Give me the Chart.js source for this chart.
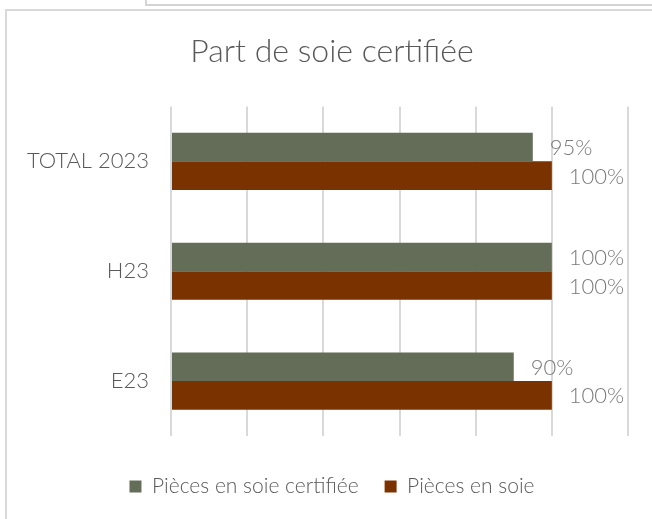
<!DOCTYPE html>
<html>
<head>
<meta charset="utf-8">
<script src="https://cdn.jsdelivr.net/npm/chart.js@4"></script>
<style>
  html, body { margin: 0; padding: 0; background: #fff; }
  body { width: 652px; height: 519px; position: relative; overflow: hidden; }
  .topbox { position: absolute; left: 145px; top: -10px; width: 520px; height: 12px; border: 2px solid #d4d4d4; }
  .frame { position: absolute; left: 5px; top: 9px; width: 660px; height: 520px; border: 2px solid #d9d9d9; }
  #wrap { position: absolute; left: 0; top: 0; width: 652px; height: 519px; }
</style>
</head>
<body>
<div class="topbox"></div>
<div class="frame"></div>
<div id="wrap"><canvas id="chart"></canvas></div>
<script>
const categories = ["TOTAL 2023", "H23", "E23"];
const certifiedValues = [95, 100, 90];
const silkValues = [100, 100, 100];
const seriesNames = ["Pièces en soie certifiée", "Pièces en soie"];

const FONT = "'Lato Light', 'Lato', 'Open Sans', sans-serif";
const TEXT = '#595959';

// value labels at the bar ends
const barLabels = {
    id: 'barLabels',
    afterDatasetsDraw(chart) {
        const ctx = chart.ctx;
        ctx.save();
        ctx.font = '300 22px ' + FONT;
        ctx.fillStyle = '#7a7a7a';
        ctx.textAlign = 'left';
        ctx.textBaseline = 'middle';
        chart.data.datasets.forEach((ds, i) => {
            chart.getDatasetMeta(i).data.forEach((bar, j) => {
                ctx.fillText(ds.data[j] + '%', bar.x + 17, bar.y + 1);
            });
        });
        ctx.restore();
    }
};

// title and legend are centred on the whole frame, a bit right of the canvas middle
const shiftBlocks = {
    id: 'shiftBlocks',
    afterLayout(chart) {
        [chart.titleBlock, chart.legend].forEach((b) => {
            if (!b) return;
            b.left = 36;
            b.width = b.right - b.left;
        });
    }
};

new Chart(document.getElementById('chart'), {
    type: 'bar',
    data: {
        labels: categories,
        datasets: [
            { label: seriesNames[0], data: certifiedValues, backgroundColor: '#646d58' },
            { label: seriesNames[1], data: silkValues, backgroundColor: '#7a3200' }
        ]
    },
    plugins: [barLabels, shiftBlocks],
    options: {
        responsive: true,
        maintainAspectRatio: false,
        animation: false,
        indexAxis: 'y',
        categoryPercentage: 0.52,
        barPercentage: 1,
        layout: { padding: { left: 10, right: 24, top: 0, bottom: 12 } },
        plugins: {
            tooltip: { enabled: false },
            title: {
                display: true,
                text: 'Part de soie certifiée',
                color: TEXT,
                font: { family: FONT, size: 32, weight: 300 },
                padding: { top: 32, bottom: 36 }
            },
            legend: {
                position: 'bottom',
                labels: {
                    color: TEXT,
                    font: { family: FONT, size: 21, weight: 300 },
                    boxWidth: 12,
                    boxHeight: 12,
                    padding: 26
                }
            }
        },
        scales: {
            x: {
                min: 0,
                max: 120,
                ticks: { display: false, stepSize: 20 },
                grid: { color: '#d9d9d9', lineWidth: 2, drawTicks: false },
                border: { display: false },
                afterFit: (scale) => { scale.height = 14; }
            },
            y: {
                ticks: {
                    color: TEXT,
                    font: { family: FONT, size: 22, weight: 300 },
                    padding: 14
                },
                grid: { display: false },
                border: { display: false },
                afterFit: (scale) => { scale.width = 161; }
            }
        }
    }
});
</script>
</body>
</html>
